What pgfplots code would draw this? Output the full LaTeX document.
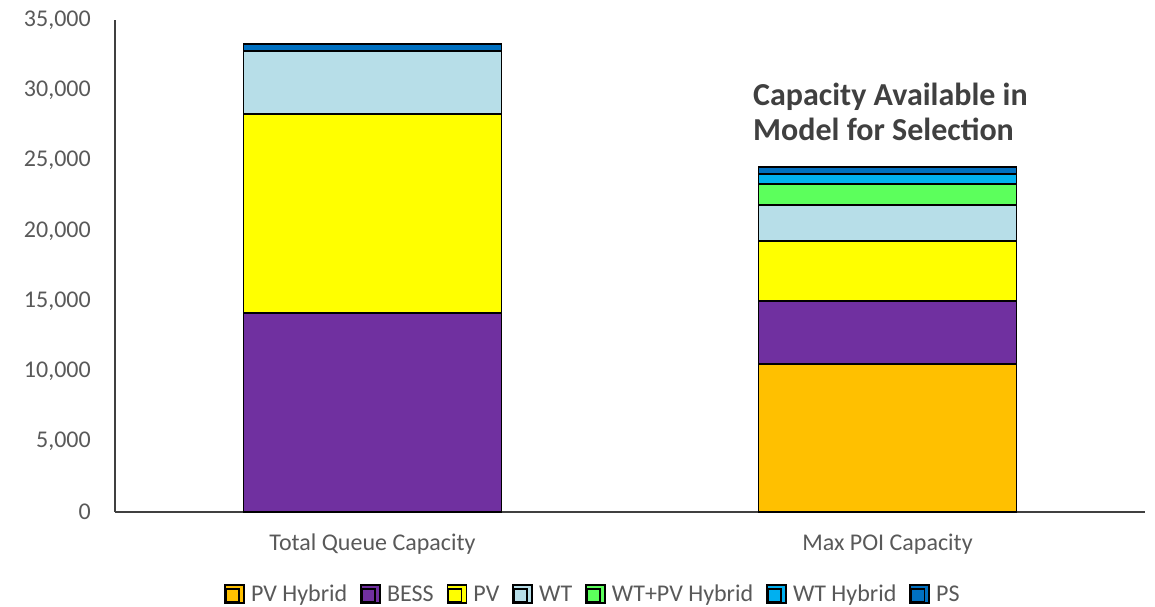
\documentclass[border=0pt]{standalone}
\usepackage{fontspec}
\setmainfont{Carlito}
\usepackage{pgfplots}
\pgfplotsset{compat=1.18}
\definecolor{cPVH}{HTML}{FFC000}
\definecolor{cBESS}{HTML}{7030A0}
\definecolor{cPV}{HTML}{FFFF00}
\definecolor{cWT}{HTML}{B7DEE8}
\definecolor{cWTPV}{HTML}{5CFF5C}
\definecolor{cWTH}{HTML}{00B0F0}
\definecolor{cPS}{HTML}{0070C0}
\definecolor{txt}{HTML}{595959}
\definecolor{ann}{HTML}{404040}
\begin{document}
\begin{tikzpicture}
\useasboundingbox (0,0) rectangle (1155pt,606pt);
\begin{axis}[
  at={(115pt,94pt)}, anchor=south west,
  scale only axis, width=1030pt, height=492pt,
  xmin=-0.5, xmax=1.5, ymin=0, ymax=35000,
  ybar stacked, bar width=258pt,
  axis x line=bottom, axis y line=left,
  axis line style={draw=black!75, line width=1.6pt, -},
  major tick length=0pt,
  xtick={0,1}, xticklabels={Total Queue Capacity, Max POI Capacity},
  ytick={0,5000,...,35000},
  scaled y ticks=false,
  /pgf/number format/.cd, 1000 sep={,}, assume math mode=true,
  /pgfplots/.cd,
  ticklabel style={font=\fontsize{24}{28}\selectfont, text=txt},
  yticklabel style={inner sep=0pt, xshift=-24pt},
  xticklabel style={inner sep=0pt, yshift=-22pt},
  every axis plot/.append style={draw=black, line width=1.8pt},
  legend style={draw=none, at={(axis description cs:0.464,-0.167)}, anchor=center,
    font=\fontsize{24}{28}\selectfont, text=txt, legend columns=-1,
    /tikz/every even column/.append style={column sep=11pt}},
  legend image code/.code={\path (0pt,-9pt) rectangle (19pt,9pt);
    \draw[#1, line width=1.5pt, draw=black] (1pt,-8pt) rectangle (14pt,5pt);},
]
\addplot[fill=cPVH] coordinates {(0,0) (1,10550)};
\addplot[fill=cBESS] coordinates {(0,14150) (1,4480)};
\addplot[fill=cPV] coordinates {(0,14160) (1,4250)};
\addplot[fill=cWT] coordinates {(0,4480) (1,2560)};
\addplot[fill=cWTPV] coordinates {(0,0) (1,1490)};
\addplot[fill=cWTH] coordinates {(0,0) (1,720)};
\addplot[fill=cPS] coordinates {(0,500) (1,490)};
\legend{\hspace{4pt}PV Hybrid, \hspace{4pt}BESS, \hspace{4pt}PV, \hspace{4pt}WT, \hspace{4pt}WT+PV Hybrid, \hspace{4pt}WT Hybrid, \hspace{4pt}PS}
\end{axis}
\node[anchor=base west, inner sep=0pt, text=ann, font=\fontsize{32}{35}\selectfont\bfseries] at (753pt,500pt) {Capacity Available in};
\node[anchor=base west, inner sep=0pt, text=ann, font=\fontsize{32}{35}\selectfont\bfseries] at (753pt,465pt) {Model for Selection};
\end{tikzpicture}
\end{document}
